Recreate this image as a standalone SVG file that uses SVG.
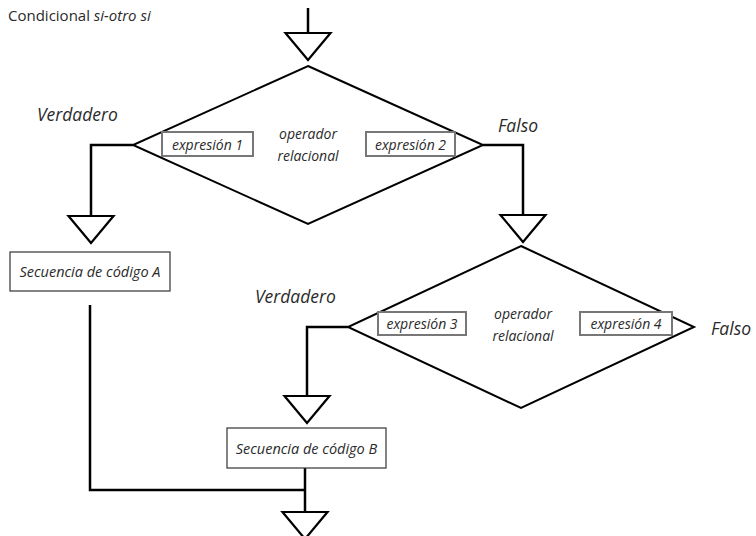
<svg xmlns="http://www.w3.org/2000/svg" width="756" height="536" viewBox="0 0 756 536">
  <style>
    .bg { fill: #ffffff; }
    .line { fill: none; stroke: #000; stroke-width: 2.5; }
    .tri { fill: #fff; stroke: #000; stroke-width: 2.2; stroke-linejoin: miter; }
    .dia { fill: #fff; stroke: #000; stroke-width: 2; }
    .box { fill: #fff; stroke: #333; stroke-width: 1.2; }
    .expr { fill: #fff; stroke: #777; stroke-width: 2; }
    .t { font-family: "Open Sans", "Liberation Sans", sans-serif; font-style: italic; fill: #2a2a2a; }
    .lbl { font-size: 17.5px; }
    .small { font-size: 14px; text-anchor: middle; }
    .seq { font-size: 14.5px; text-anchor: middle; }
    .title { font-family: "Open Sans", "Liberation Sans", sans-serif; font-size: 15px; fill: #2a2a2a; }
  </style>
  <defs>
    <polygon id="arrow" points="-22.5,0 22.5,0 0,27"/>
  </defs>
  <rect class="bg" width="756" height="536"/>

  <text class="title" x="8" y="21">Condicional <tspan font-style="italic">si-otro si</tspan></text>

  <g id="connectors">
    <path class="line" d="M308,8 V33"/>
    <path class="line" d="M133,145 H91 V216"/>
    <path class="line" d="M483,145 H523 V215"/>
    <path class="line" d="M348,327 H307 V395"/>
    <path class="line" d="M90,305 V490 H305"/>
    <path class="line" d="M305,468 V512"/>
    <use href="#arrow" class="tri" x="308" y="33"/>
    <use href="#arrow" class="tri" x="91" y="216"/>
    <use href="#arrow" class="tri" x="523" y="215"/>
    <use href="#arrow" class="tri" x="307" y="396"/>
    <use href="#arrow" class="tri" x="305" y="512"/>
  </g>

  <g id="decision1">
    <polygon class="dia" points="308,66 483,145 308,224 133,145"/>
    <rect class="expr" x="162" y="132" width="91" height="24"/>
    <text class="t small" x="207.5" y="149.5">expresión 1</text>
    <rect class="expr" x="366" y="132" width="89" height="24"/>
    <text class="t small" x="410.5" y="149.5">expresión 2</text>
    <text class="t small" x="308" y="139">operador</text>
    <text class="t small" x="308" y="161">relacional</text>
  </g>

  <g id="decision2">
    <polygon class="dia" points="521,246 694,327 521,408 348,327"/>
    <rect class="expr" x="378" y="312" width="88" height="23"/>
    <text class="t small" x="422" y="329">expresión 3</text>
    <rect class="expr" x="580" y="312" width="92" height="23"/>
    <text class="t small" x="626" y="329">expresión 4</text>
    <text class="t small" x="523" y="319">operador</text>
    <text class="t small" x="523" y="341">relacional</text>
  </g>

  <g id="labels">
    <text class="t lbl" x="37" y="121">Verdadero</text>
    <text class="t lbl" x="498" y="132">Falso</text>
    <text class="t lbl" x="255" y="303">Verdadero</text>
    <text class="t lbl" x="711" y="335">Falso</text>
  </g>

  <g id="blockA">
    <rect class="box" x="10" y="252" width="160" height="39"/>
    <text class="t seq" x="90" y="277">Secuencia de código A</text>
  </g>

  <g id="blockB">
    <rect class="box" x="227" y="428" width="159" height="40"/>
    <text class="t seq" x="306.5" y="453.5">Secuencia de código B</text>
  </g>
</svg>
